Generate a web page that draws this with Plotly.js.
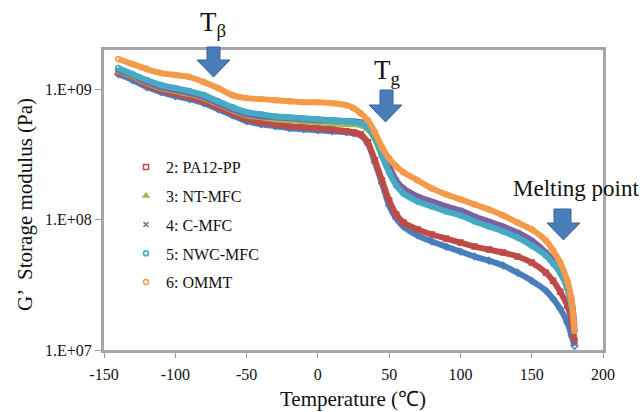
<!DOCTYPE html>
<html><head><meta charset="utf-8">
<script src="https://cdn.plot.ly/plotly-3.0.1.min.js"></script>
<style>html,body{margin:0;padding:0;background:#fff}#chart{width:644px;height:412px}</style>
</head><body><div id="chart"></div>
<script>
// Temperature (°C)
const temperature = [-140,-130,-120,-110,-100,-90,-80,-70,-60,-50,-40,-30,-20,-10,0,10,20,25,30,35,40,45,50,55,60,70,80,90,100,110,120,130,140,150,160,165,170,175,178,180];

// Storage modulus G' (Pa)
const gS1 = [1.307e9,1.176e9,1.039e9,9.51e8,8.86e8,8.40e8,7.82e8,7.03e8,6.32e8,5.69e8,5.39e8,5.21e8,5.03e8,4.94e8,4.85e8,4.76e8,4.68e8,4.60e8,4.44e8,3.85e8,2.75e8,1.897e8,1.284e8,1.021e8,8.86e7,7.55e7,6.79e7,6.21e7,5.69e7,5.21e7,4.85e7,4.44e7,3.92e7,3.40e7,2.85e7,2.47e7,2.07e7,1.617e7,1.284e7,1.076e7];
const gPA12PP = [1.354e9,1.239e9,1.076e9,9.85e8,9.18e8,8.70e8,8.10e8,7.29e8,6.55e8,5.89e8,5.59e8,5.39e8,5.21e8,5.11e8,5.03e8,4.94e8,4.76e8,4.68e8,4.52e8,3.92e8,2.85e8,2.00e8,1.403e8,1.096e8,9.51e7,8.40e7,7.69e7,7.16e7,6.67e7,6.21e7,5.89e7,5.59e7,5.21e7,4.68e7,3.92e7,3.40e7,2.80e7,2.19e7,1.675e7,1.176e7];
const gNTMFC = [1.378e9,1.262e9,1.115e9,1.021e9,9.68e8,9.18e8,8.55e8,7.69e8,6.91e8,6.32e8,6.10e8,5.89e8,5.79e8,5.69e8,5.59e8,5.49e8,5.39e8,5.39e8,5.30e8,4.94e8,4.14e8,3.06e8,2.31e8,1.863e8,1.617e8,1.403e8,1.284e8,1.176e8,1.096e8,9.85e7,9.02e7,8.25e7,7.42e7,6.44e7,5.30e7,4.68e7,3.92e7,2.95e7,2.19e7,1.403e7];
const gCMFC = [1.403e9,1.284e9,1.135e9,1.039e9,9.85e8,9.34e8,8.70e8,7.82e8,7.03e8,6.44e8,6.21e8,6.10e8,6.00e8,5.89e8,5.79e8,5.79e8,5.69e8,5.69e8,5.59e8,5.30e8,4.52e8,3.40e8,2.56e8,2.00e8,1.736e8,1.506e8,1.378e8,1.262e8,1.176e8,1.057e8,9.68e7,8.86e7,7.96e7,6.91e7,5.59e7,4.85e7,4.06e7,3.11e7,2.39e7,1.533e7];
const gNWCMFC = [1.454e9,1.307e9,1.176e9,1.076e9,1.021e9,9.68e8,9.02e8,8.10e8,7.29e8,6.67e8,6.44e8,6.21e8,6.10e8,6.00e8,5.89e8,5.79e8,5.69e8,5.59e8,5.49e8,5.11e8,4.28e8,3.11e8,2.31e8,1.831e8,1.588e8,1.378e8,1.262e8,1.155e8,1.076e8,9.68e7,8.86e7,8.10e7,7.29e7,6.32e7,5.30e7,4.60e7,3.92e7,3.00e7,2.19e7,1.403e7];
const gOMMT = [1.705e9,1.560e9,1.428e9,1.330e9,1.284e9,1.239e9,1.135e9,1.021e9,9.02e8,8.55e8,8.40e8,8.25e8,8.10e8,7.96e8,7.96e8,7.82e8,7.55e8,7.16e8,6.55e8,5.79e8,4.68e8,3.59e8,2.95e8,2.56e8,2.31e8,2.00e8,1.736e8,1.560e8,1.428e8,1.307e8,1.196e8,1.076e8,9.51e7,8.40e7,6.91e7,5.79e7,4.68e7,3.40e7,2.39e7,1.403e7];

const seriesNames = ['1', '2: PA12-PP', '3: NT-MFC', '4: C-MFC', '5: NWC-MFC', '6: OMMT'];
const yTickVals = [1e7, 1e8, 1e9];
const yTickText = ['1.E+07', '1.E+08', '1.E+09'];
const xTickVals = [-150, -100, -50, 0, 50, 100, 150, 200];
const xTickText = ['-150', '-100', '-50', '0', '50', '100', '150', '200'];
const xTitle = 'Temperature (℃)';
const yTitle = 'G’  Storage modulus (Pa)';

const seriesData = [gS1, gPA12PP, gNTMFC, gCMFC, gNWCMFC, gOMMT];
const colors = ['#4A7EBB', '#BE4B48', '#98B954', '#7D60A0', '#46AAC5', '#F59A4A'];
const symbols = ['diamond-open', 'square-open', 'triangle-up', 'x-thin-open', 'circle-open', 'circle-open'];

const traces = [];
seriesData.forEach((vals, i) => {
  traces.push({
    x: temperature, y: vals, mode: 'lines', type: 'scatter',
    line: {color: colors[i], width: 6, shape: 'spline', smoothing: 0.8},
    showlegend: false, hoverinfo: 'skip'
  });
  traces.push({
    x: temperature, y: vals, mode: 'markers', type: 'scatter',
    name: seriesNames[i], showlegend: i > 0, legendgroup: 'g' + i,
    marker: {color: colors[i], symbol: symbols[i], size: 5, line: {color: colors[i], width: 1.5}}
  });
});

// pixel -> paper helpers (plot area 104..603 x, 50..350 y)
const L = 104, R = 603, T = 50, B = 350;
const px = v => (v - L) / (R - L);
const py = v => (B - v) / (B - T);
function arrow(sx1, sx2, hx1, hx2, top, hs, tip) {
  const cx = (hx1 + hx2) / 2;
  const pts = [[sx1, top], [sx2, top], [sx2, hs], [hx2, hs], [cx, tip], [hx1, hs], [sx1, hs]];
  return {
    type: 'path', xref: 'paper', yref: 'paper',
    path: 'M' + pts.map(p => px(p[0]).toFixed(4) + ',' + py(p[1]).toFixed(4)).join(' L') + ' Z',
    fillcolor: '#4A7EBB', line: {color: '#3A659A', width: 1}
  };
}

const font = 'Liberation Serif';
const layout = {
  width: 644, height: 412,
  margin: {l: L, r: 644 - R, t: T, b: 412 - B},
  paper_bgcolor: '#fff', plot_bgcolor: '#fff',
  font: {family: font, size: 16, color: '#111'},
  xaxis: {
    range: [-150, 200], tickvals: xTickVals, ticktext: xTickText, ticks: 'outside', ticklen: 5, tickcolor: '#999',
    ticklabelstandoff: 3,
    showline: true, mirror: true, linecolor: '#A6A6A6', linewidth: 3, showgrid: false, zeroline: false,
    tickfont: {family: font, size: 16, color: '#111'}
  },
  yaxis: {
    type: 'log', range: [7, Math.log10(2e9)], tickvals: yTickVals, ticktext: yTickText,
    ticks: 'outside', ticklen: 6, tickcolor: '#999',
    showline: true, mirror: true, linecolor: '#A6A6A6', linewidth: 3, showgrid: false, zeroline: false,
    tickfont: {family: font, size: 16, color: '#111'}
  },
  legend: {
    x: px(126), y: py(150), xanchor: 'left', yanchor: 'top',
    bgcolor: 'rgba(0,0,0,0)', font: {family: font, size: 16, color: '#111'},
    traceorder: 'grouped', tracegroupgap: 5, itemwidth: 30
  },
  shapes: [
    arrow(207, 220, 197, 230, 47, 60, 77),
    arrow(380, 393, 369, 402, 90, 105, 122),
    arrow(554, 571, 547, 580, 209, 223, 240)
  ],
  annotations: [
    {xref: 'paper', yref: 'paper', x: px(213), y: py(24), text: 'T<sub>β</sub>', showarrow: false,
     font: {family: font, size: 27, color: '#111'}, xanchor: 'center', yanchor: 'middle'},
    {xref: 'paper', yref: 'paper', x: px(387), y: py(72), text: 'T<sub>g</sub>', showarrow: false,
     font: {family: font, size: 27, color: '#111'}, xanchor: 'center', yanchor: 'middle'},
    {xref: 'paper', yref: 'paper', x: px(511), y: py(188), text: 'Melting point', showarrow: false,
     font: {family: font, size: 23, color: '#111'}, xanchor: 'left', yanchor: 'middle'},
    {xref: 'paper', yref: 'paper', x: px(353), y: py(399), text: xTitle, showarrow: false,
     font: {family: font, size: 21, color: '#111'}, xanchor: 'center', yanchor: 'middle'},
    {xref: 'paper', yref: 'paper', x: px(25), y: py(205), text: yTitle, showarrow: false, textangle: -90,
     font: {family: font, size: 21, color: '#111'}, xanchor: 'center', yanchor: 'middle'}
  ]
};

Plotly.newPlot('chart', traces, layout, {displayModeBar: false, staticPlot: true});
</script>
</body></html>
